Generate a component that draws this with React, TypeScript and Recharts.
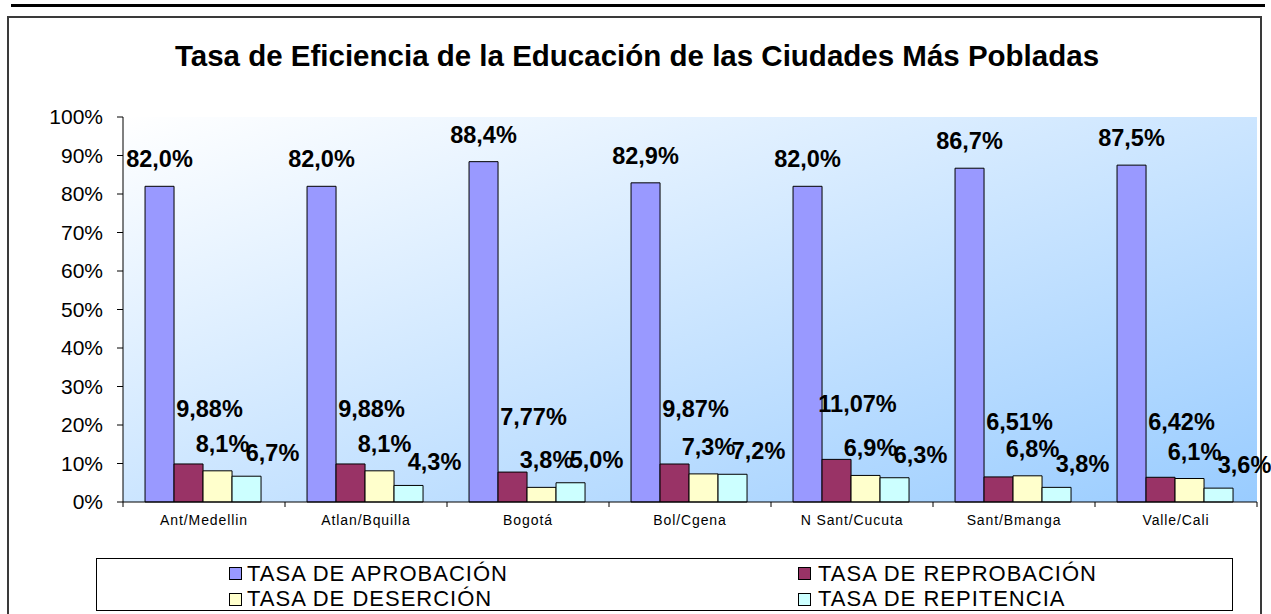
import React from "react";
import {
  Bar,
  BarChart,
  CartesianGrid,
  LabelList,
  XAxis,
  YAxis,
} from "recharts";

const categories = [
  "Ant/Medellin",
  "Atlan/Bquilla",
  "Bogotá",
  "Bol/Cgena",
  "N Sant/Cucuta",
  "Sant/Bmanga",
  "Valle/Cali",
];
const aprobacion = [82.0, 82.0, 88.4, 82.9, 82.0, 86.7, 87.5];
const reprobacion = [9.88, 9.88, 7.77, 9.87, 11.07, 6.51, 6.42];
const desercion = [8.1, 8.1, 3.8, 7.3, 6.9, 6.8, 6.1];
const repitencia = [6.7, 4.3, 5.0, 7.2, 6.3, 3.8, 3.6];
const yTicks = [0, 10, 20, 30, 40, 50, 60, 70, 80, 90, 100];

const FONT = "'Liberation Sans', Arial, sans-serif";

// series look: colour, decimals shown and where the value label sits
const series = [
  { key: "aprobacion", name: "TASA DE APROBACIÓN", fill: "#9999ff", decimals: 1, dx: 0, lift: 19 },
  { key: "reprobacion", name: "TASA DE REPROBACIÓN", fill: "#993366", decimals: 2, dx: 21, lift: 47 },
  { key: "desercion", name: "TASA DE DESERCIÓN", fill: "#ffffcc", decimals: 1, dx: 5, lift: 19 },
  { key: "repitencia", name: "TASA DE REPITENCIA", fill: "#ccffff", decimals: 1, dx: 26, lift: 15 },
];

const rows = categories.map((name, i) => ({
  name,
  aprobacion: aprobacion[i],
  reprobacion: reprobacion[i],
  desercion: desercion[i],
  repitencia: repitencia[i],
}));

const fmt = (v: number, d: number) => v.toFixed(d).replace(".", ",") + "%";

const makeLabel = (decimals: number, dx: number, lift: number) => (props: any) => {
  const { x, y, width, value } = props;
  return (
    <text
      x={Number(x) + Number(width) / 2 + dx}
      y={Number(y) - lift}
      textAnchor="middle"
      fontFamily={FONT}
      fontWeight="bold"
      fontSize={23.5}
      fill="#000"
    >
      {fmt(Number(value), decimals)}
    </text>
  );
};

const PLOT_W = 1271 - 123 - 14;
const HALF_BAND = PLOT_W / categories.length / 2;

const CategoryTick = (props: any) => {
  const { x, y, payload, index } = props;
  const half = payload && payload.offset ? payload.offset : HALF_BAND;
  return (
    <g>
      <line x1={x - half} y1={y} x2={x - half} y2={y + 5} stroke="#000" />
      {index === categories.length - 1 && (
        <line x1={x + half} y1={y} x2={x + half} y2={y + 5} stroke="#000" />
      )}
      <text
        x={x}
        y={y + 23}
        textAnchor="middle"
        fontFamily={FONT}
        fontSize={14}
        letterSpacing={0.9}
        fill="#000"
      >
        {payload.value}
      </text>
    </g>
  );
};

const legendSlots = [
  { sq: 229, tx: 247, row: 0 },
  { sq: 798, tx: 818, row: 0 },
  { sq: 229, tx: 247, row: 1 },
  { sq: 798, tx: 818, row: 1 },
];
const legendOrder = ["aprobacion", "reprobacion", "desercion", "repitencia"];

const App = () => {
  return (
    <div
      style={{
        position: "absolute",
        left: 0,
        top: 0,
        width: 1271,
        height: 614,
        overflow: "hidden",
        background: "#fff",
        fontFamily: FONT,
      }}
    >
      {/* rule above the frame */}
      <div style={{ position: "absolute", left: 11, top: 4, width: 1254, height: 3, background: "#000" }} />
      {/* outer frame */}
      <div
        style={{
          position: "absolute",
          left: 7,
          top: 16,
          width: 1255,
          height: 640,
          boxSizing: "border-box",
          border: "2px solid #3a3a3a",
        }}
      />

      <div
        style={{
          position: "absolute",
          left: 0,
          top: 41,
          width: 1274,
          textAlign: "center",
          fontSize: 29.5,
          lineHeight: "29px",
          fontWeight: "bold",
          color: "#000",
        }}
      >
        Tasa de Eficiencia de la Educación de las Ciudades Más Pobladas
      </div>

      <div style={{ position: "absolute", left: 0, top: 0 }}>
        <BarChart
          width={1271}
          height={614}
          data={rows}
          margin={{ top: 117, right: 14, left: 0, bottom: 82 }}
          barCategoryGap="13.6%"
          barGap={0}
        >
          <defs>
            <linearGradient id="plotBg" x1="0" y1="0" x2="1" y2="1">
              <stop offset="0%" stopColor="#ffffff" />
              <stop offset="100%" stopColor="#99ccff" />
            </linearGradient>
          </defs>

          <CartesianGrid horizontal={false} vertical={false} fill="url(#plotBg)" />

          {/* plot frame top / right */}
          <XAxis xAxisId="top" orientation="top" dataKey="name" height={0} tick={false} tickLine={false} axisLine={{ stroke: "#808080" }} />
          <YAxis yAxisId="right" orientation="right" width={0} domain={[0, 100]} tick={false} tickLine={false} axisLine={{ stroke: "#808080" }} />

          <XAxis
            dataKey="name"
            height={30}
            tickSize={0}
            tickMargin={0}
            tickLine={false}
            axisLine={{ stroke: "#000" }}
            interval={0}
            tick={<CategoryTick />}
          />
          <YAxis
            width={123}
            domain={[0, 100]}
            ticks={yTicks}
            interval={0}
            tickSize={6}
            tickMargin={14}
            tickFormatter={(v) => `${v}%`}
            axisLine={{ stroke: "#000" }}
            tickLine={{ stroke: "#000" }}
            tick={{ fill: "#000", fontSize: 21, fontFamily: FONT }}
          />

          {series.map((s) => (
            <Bar
              key={s.key}
              dataKey={s.key}
              name={s.name}
              fill={s.fill}
              stroke="#000"
              strokeWidth={1}
              isAnimationActive={false}
            >
              <LabelList dataKey={s.key} content={makeLabel(s.decimals, s.dx, s.lift)} />
            </Bar>
          ))}
        </BarChart>
      </div>

      {/* legend */}
      <div
        style={{
          position: "absolute",
          left: 96,
          top: 558,
          width: 1137,
          height: 53,
          boxSizing: "border-box",
          border: "1px solid #000",
        }}
      />
      {legendOrder.map((k, i) => {
        const s = series.find((q) => q.key === k)!;
        const slot = legendSlots[i];
        const cy = 573.5 + slot.row * 25.5;
        return (
          <React.Fragment key={k}>
            <div
              style={{
                position: "absolute",
                left: slot.sq,
                top: cy - 6.5,
                width: 13,
                height: 13,
                boxSizing: "border-box",
                border: "1px solid #000",
                background: s.fill,
              }}
            />
            <div
              style={{
                position: "absolute",
                left: slot.tx,
                top: cy - 11,
                height: 22,
                fontSize: 22,
                lineHeight: "22px",
                letterSpacing: 1,
                color: "#000",
                whiteSpace: "nowrap",
              }}
            >
              {s.name}
            </div>
          </React.Fragment>
        );
      })}
    </div>
  );
};

export default App;
